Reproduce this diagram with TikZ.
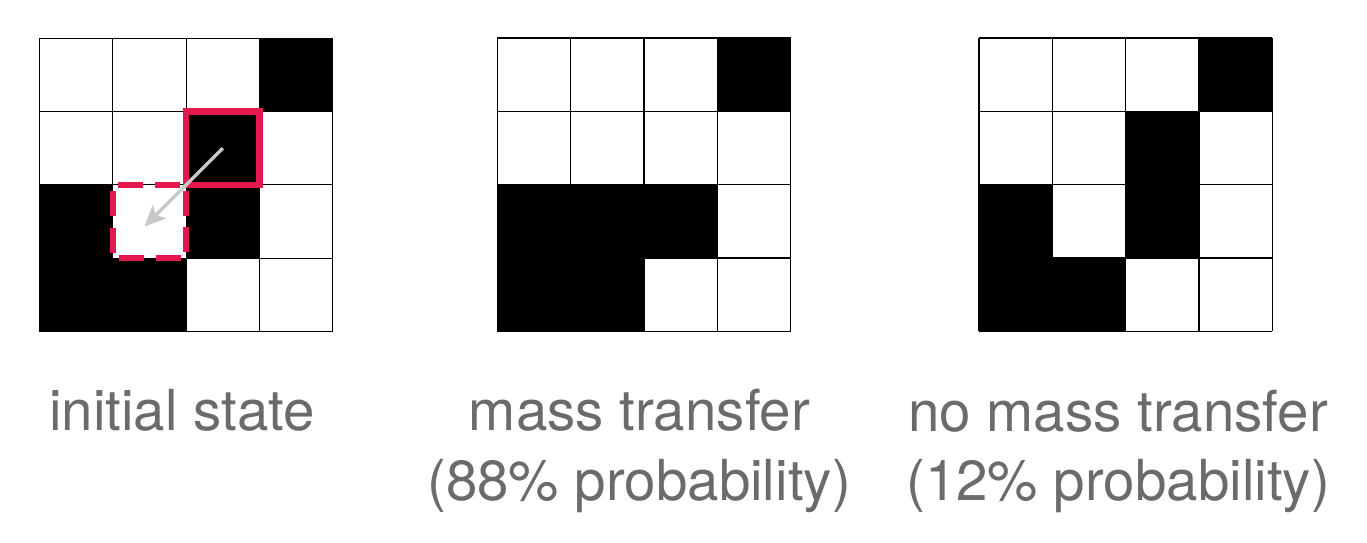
\documentclass[tikz,border=0pt]{standalone}
\usepackage{fontspec}
\setmainfont{TeX Gyre Heros}
\usetikzlibrary{arrows.meta}
\definecolor{crim}{HTML}{E2184F}
\definecolor{arrowgray}{HTML}{C8C8C8}
\definecolor{labelgray}{HTML}{6B6B6B}
\newcommand{\cs}{73.33}
\newcommand{\cellgrid}[1]{%
  \foreach \c/\r in {#1} {\fill[black] (\c*\cs,\r*\cs) rectangle ++(\cs,\cs);}
  \foreach \i in {0,...,4} {%
    \draw[gridline] (\i*\cs,0) -- ++(0,4*\cs);
    \draw[gridline] (0,\i*\cs) -- ++(4*\cs,0);
  }%
}
\begin{document}
\begin{tikzpicture}[x=1pt,y=-1pt,
  gridline/.style={black,line width=1.2pt},
  redsolid/.style={draw=crim,line width=6.5pt,minimum size=73.33pt,inner sep=0pt,outer sep=0pt},
  reddash/.style={draw=crim,line width=6pt,minimum size=73.33pt,inner sep=0pt,outer sep=0pt,
    dash pattern=on 25pt off 11.67pt,dash phase=30.67pt},
  movearrow/.style={arrowgray,line width=3.3pt,-{Stealth[length=21pt,width=19pt,inset=5pt]}},
  lbl/.style={anchor=base,inner sep=0pt,text=labelgray,font=\fontsize{56.5}{68}\selectfont}]
\useasboundingbox (0,0) rectangle (1367,543);
\fill[white] (0,0) rectangle (1367,543);
% grid 1: initial state
\begin{scope}[shift={(39.5,38.2)}]
  \cellgrid{3/0,2/1,0/2,2/2,0/3,1/3}
  \node[reddash] (dst) at (1.5*\cs,2.5*\cs) {};
  \node[redsolid] (src) at (2.5*\cs,1.5*\cs) {};
  \draw[movearrow,shorten >=-7pt] (src.center) -- (dst.center);
\end{scope}
% grid 2: mass transfer
\begin{scope}[shift={(497.3,38)}]
  \cellgrid{3/0,0/2,1/2,2/2,0/3,1/3}
\end{scope}
% grid 3: no mass transfer
\begin{scope}[shift={(979,38)}]
  \cellgrid{3/0,2/1,0/2,2/2,0/3,1/3}
\end{scope}
\node[lbl] (l1) at (182,430) {initial state};
\node[lbl] (l2a) at (639.5,430) {mass transfer};
\node[lbl] (l2b) at (639,500) {(88\% probability)};
\node[lbl] (l3a) at (1118,431) {no mass transfer};
\node[lbl] (l3b) at (1118,500) {(12\% probability)};
\end{tikzpicture}
\end{document}
